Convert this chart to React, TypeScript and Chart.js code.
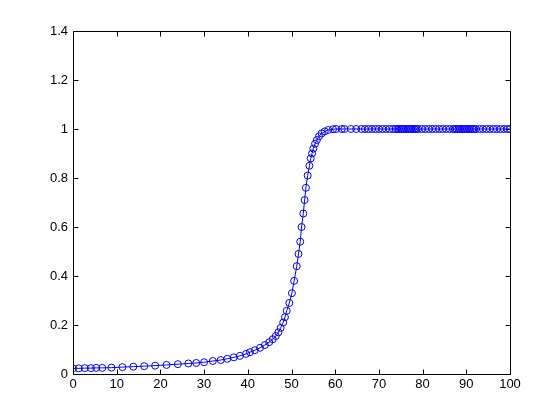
import React, { useEffect, useRef } from "react";
import { Chart, registerables } from "chart.js";

Chart.register(...registerables);

const riseX: number[] = [
  0, 1.3, 2.7, 4.1, 5.3, 6.7, 8.8, 11.3, 13.8, 16.3, 18.8, 21.4, 24.0, 26.4, 28.2, 30.0,
  32.0, 33.8, 35.3, 36.8, 38.2, 39.6, 40.5, 41.6, 42.8, 43.9, 44.9, 45.7, 46.4, 47.0,
  47.5, 48.1, 48.5, 48.9, 49.5, 50.1, 50.6, 51.2, 51.6, 52.0, 52.3, 52.7, 53.0, 53.3,
  53.7, 54.1, 54.4, 54.7, 55.0, 55.4, 55.8, 56.3, 56.9, 57.6, 58.4, 59.5,
];

const riseY: number[] = [
  0.023, 0.023, 0.024, 0.024, 0.025, 0.025, 0.026, 0.028, 0.030, 0.032, 0.034, 0.037,
  0.040, 0.043, 0.045, 0.048, 0.053, 0.057, 0.062, 0.068, 0.074, 0.082, 0.089, 0.097,
  0.107, 0.118, 0.130, 0.142, 0.155, 0.170, 0.188, 0.210, 0.232, 0.258, 0.290, 0.330,
  0.380, 0.440, 0.490, 0.540, 0.600, 0.655, 0.710, 0.760, 0.810, 0.850, 0.880, 0.900,
  0.920, 0.940, 0.955, 0.970, 0.982, 0.990, 0.996, 0.999,
];

const plateauX: number[] = [
  60.2, 61.5, 62.1, 63.6, 64.8, 66.0, 66.8, 67.6, 68.4, 69.2, 70.0, 70.8, 71.6, 72.4,
  73.2, 73.8, 74.2, 74.6, 75.0, 75.4, 75.8, 76.2, 76.6, 77.0, 77.4, 77.8, 78.2, 78.6,
  79.0, 79.8, 80.6, 81.4, 82.2, 83.0, 83.8, 84.6, 85.4, 86.2, 87.0, 87.4, 87.8, 88.2,
  88.6, 89.0, 89.4, 89.8, 90.2, 90.6, 91.0, 91.4, 91.8, 92.2, 93.0, 93.8, 94.6, 95.4,
  96.2, 97.0, 97.8, 98.6, 99.4, 100,
];

const plateauY: number[] = [
  1, 1, 1, 1, 1, 1, 1, 1, 1, 1, 1, 1, 1, 1,
  1, 1, 1, 1, 1, 1, 1, 1, 1, 1, 1, 1, 1, 1,
  1, 1, 1, 1, 1, 1, 1, 1, 1, 1, 1, 1, 1, 1,
  1, 1, 1, 1, 1, 1, 1, 1, 1, 1, 1, 1, 1, 1,
  1, 1, 1, 1, 1, 1,
];

const xTicks: number[] = [0, 10, 20, 30, 40, 50, 60, 70, 80, 90, 100];
const yTicks: number[] = [0, 0.2, 0.4, 0.6, 0.8, 1, 1.2, 1.4];

const FONT = { family: "'Liberation Sans Narrow', 'Arial Narrow', 'Liberation Sans', Arial, sans-serif", size: 13 };

const boxPlugin = {
  id: "matlabBox",
  afterDraw(chart: any) {
    const { ctx, chartArea } = chart;
    const xs = chart.scales.x;
    const ys = chart.scales.y;
    const L = 5;
    ctx.save();
    ctx.strokeStyle = "#000";
    ctx.lineWidth = 1;
    ctx.beginPath();
    const l = Math.round(chartArea.left) + 0.5;
    const r = Math.round(chartArea.right) + 0.5;
    const t = Math.round(chartArea.top) + 0.5;
    const b = Math.round(chartArea.bottom) + 0.5;
    ctx.rect(l, t, r - l, b - t);
    xTicks.forEach((v) => {
      const px = Math.round(xs.getPixelForValue(v)) + 0.5;
      ctx.moveTo(px, b);
      ctx.lineTo(px, b - L);
      ctx.moveTo(px, t);
      ctx.lineTo(px, t + L);
    });
    yTicks.forEach((v) => {
      const py = Math.round(ys.getPixelForValue(v)) + 0.5;
      ctx.moveTo(l, py);
      ctx.lineTo(l + L, py);
      ctx.moveTo(r, py);
      ctx.lineTo(r - L, py);
    });
    ctx.stroke();
    ctx.restore();
  },
};

export default function App() {
  const ref = useRef<HTMLCanvasElement | null>(null);
  useEffect(() => {
    if (!ref.current) return;
    const allX = riseX.concat(plateauX);
    const allY = riseY.concat(plateauY);
    const data = allX.map((x, i) => ({ x, y: allY[i] }));
    const chart = new Chart(ref.current, {
      type: "line",
      data: {
        datasets: [
          {
            data,
            borderColor: "#0000ff",
            borderWidth: 1,
            backgroundColor: "rgba(0,0,0,0)",
            pointStyle: "circle",
            pointRadius: 3.5,
            pointBorderColor: "#0000ff",
            pointBackgroundColor: "rgba(0,0,0,0)",
            pointBorderWidth: 1,
            tension: 0,
            fill: false,
          },
        ],
      },
      options: {
        animation: false,
        responsive: false,
        maintainAspectRatio: false,
        layout: { padding: { left: 0, right: 50, top: 31, bottom: 0 } },
        plugins: { legend: { display: false }, tooltip: { enabled: false } },
        scales: {
          x: {
            type: "linear",
            min: 0,
            max: 100,
            afterFit: (s: any) => {
              s.height = 46;
            },
            afterBuildTicks: (s: any) => {
              s.ticks = xTicks.map((v) => ({ value: v }));
            },
            grid: { display: false, drawTicks: false },
            border: { display: false },
            ticks: { color: "#000", font: FONT, padding: 3, maxRotation: 0, autoSkip: false },
          },
          y: {
            type: "linear",
            min: 0,
            max: 1.4,
            afterFit: (s: any) => {
              s.width = 73;
            },
            afterBuildTicks: (s: any) => {
              s.ticks = yTicks.map((v) => ({ value: v }));
            },
            grid: { display: false, drawTicks: false },
            border: { display: false },
            ticks: {
              color: "#000",
              font: FONT,
              padding: 5,
              autoSkip: false,
              callback: (v: any) => String(Math.round(Number(v) * 10) / 10),
            },
          },
        },
      },
      plugins: [boxPlugin],
    });
    return () => chart.destroy();
  }, []);
  return (
    <div style={{ position: "fixed", left: 0, top: 0, width: 560, height: 420, background: "#fff" }}>
      <canvas ref={ref} width={560} height={420} style={{ width: 560, height: 420, display: "block" }} />
    </div>
  );
}
